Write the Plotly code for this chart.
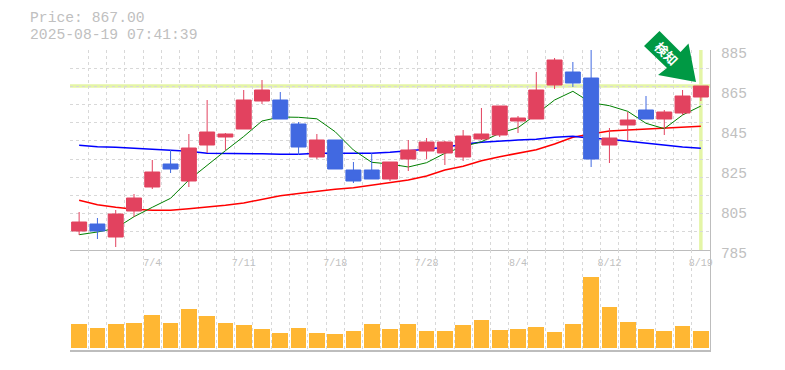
import plotly.graph_objects as go

W, H = 785, 370
L, R, T, B = 70, 710, 50, 350
MID = 250

index = list(range(35))
opens = [794.5,798,791.5,804.5,816.5,828,819.5,837.5,841.5,845.5,859.5,860,848,831.5,840,825,825,820.5,830.5,834.5,833.5,831.5,840.5,842.5,849.5,850.5,867.5,874,871,837.5,847.5,855,850.5,853.5,861.5]
closes = [799,794.5,803,811,824,825.5,836,844,843,860,865,850.5,836.5,840,825.5,819.5,820.5,829,835,839,839,842,843,857,851,865,880,868.5,830.5,841,850,850.5,854,862,867]
highs = [804,801,805,813,830,835,843,860,843.5,865,870,864,849,843,840,829,833.5,829,840,841,839.5,845,856,857,852,874,881,879,885,846,854,862,855,865,867]
lows = [792.5,790.5,786.5,801.5,815.5,823.5,816.5,833.5,835,845.5,858,850.5,832.5,830.5,825.5,818.5,820.5,819.5,824.5,830.5,827.5,829.5,840,841.5,843.5,850.5,865.5,866.5,826.5,828.5,839.5,850.5,842.5,852.5,859.5]
ma_green = [792.65,794,795.85,801.65,806.35,810.85,820,827.5,834.65,841.75,849.5,851.5,851.35,850.6,844.15,835,828.85,828,826.5,828.65,833.35,836.65,839.15,843.35,846.15,852.85,860,864.35,858.65,857.15,854.35,848.35,845.65,852.5,857]
ma_red = [809.85,807.65,806.35,805.35,804.85,804.85,805.65,806.35,807.35,808.5,810.35,812.15,813.25,814.35,815.35,816.15,817.5,818.85,820,822,825,826.85,829.65,831.65,833.5,835.15,838,841.35,843,844.5,845,845.5,845.85,846.15,846.85]
ma_blue = [837.35,836.65,836.35,835.85,835.65,835,834.35,833.35,833.35,833.35,833.15,832.85,832.85,833.35,833.35,833.35,833.35,833.85,834.5,835.35,836.35,837.85,838.85,839.5,840,840.35,841.35,841.85,840.85,840.35,839.35,838.35,837.5,836.5,835.85]
volumes = [24,20,24,25,33,25,39,32,25,23,19,15,20,15,14,17,24,19,24,17,17,23,28,18,19,21,16,24,71,41,26,19,17,22,17]

date_ticks = [4, 9, 14, 19, 24, 29, 34]
date_labels = ["7/4", "7/11", "7/18", "7/28", "8/4", "8/12", "8/19"]
price_ticks = [785, 805, 825, 845, 865, 885]
last_price = 867.00
price_text = "Price: 867.00"
time_text = "2025-08-19 07:41:39"
badge_text = "検知"

RED, BLUE = "#E2425F", "#4169E1"
TXT = "#c0c0c0"
GRID = "#d8d8d8"
EDGE = "#bdbdbd"
PALE = "#E4F5A6"
MONO = "Liberation Mono"

px = lambda x: (x - L) / (R - L)
py = lambda y: (B - y) / (B - T)

arrow_px = [(659.5,31),(644,46),(667,68),(658,75),(696,82),(688.5,43.5),(680.5,52)]
arrow_path = "M " + " L ".join(f"{px(a)} {py(b)}" for a, b in arrow_px) + " Z"

fig = go.Figure()
for vals, col, wid, name in [(ma_red, "#ff0000", 1.5, "MA long"), (ma_blue, "#0000ff", 1.5, "MA mid"), (ma_green, "#008000", 1, "MA short")]:
    fig.add_trace(go.Scatter(x=index, y=vals, mode="lines", name=name, line=dict(color=col, width=wid), xaxis="x", yaxis="y"))
fig.add_trace(go.Candlestick(
    x=index, open=opens, high=highs, low=lows, close=closes, xaxis="x", yaxis="y3", whiskerwidth=0,
    increasing=dict(line=dict(color=RED, width=1), fillcolor=RED),
    decreasing=dict(line=dict(color=BLUE, width=1), fillcolor=BLUE)))
fig.add_trace(go.Bar(x=index, y=volumes, marker=dict(color="#FFB733", line=dict(width=0)), width=0.86, xaxis="x2", yaxis="y2"))

xgrid = dict(showgrid=True, griddash="3px,3px", gridcolor=GRID, gridwidth=1, tick0=-0.5, dtick=1, tickmode="linear")
ygrid = dict(showgrid=True, griddash="3px,3px", gridcolor=GRID, gridwidth=1, tick0=785, dtick=100 / 11, tickmode="linear")

fig.update_layout(
    width=W, height=H, autosize=False, showlegend=False, paper_bgcolor="white", plot_bgcolor="white",
    margin=dict(l=L, r=W - R, t=T, b=H - B, pad=0, autoexpand=False), boxgap=0.18, boxgroupgap=0, bargap=0,
    font=dict(family=MONO, color=TXT),
    xaxis=dict(range=[-0.5, 34.5], domain=[0, 1], anchor="y", tickmode="array", tickvals=date_ticks, ticktext=date_labels, automargin=False,
               tickfont=dict(size=10, family=MONO, color=TXT), ticks="", ticklabelstandoff=3, showgrid=False, zeroline=False,
               showline=True, linecolor=EDGE, linewidth=1, minor=xgrid, rangeslider=dict(visible=False)),
    yaxis=dict(range=[785, 885], domain=[100 / 300, 1], anchor="x", side="right", tickmode="array", tickvals=price_ticks, automargin=False,
               tickfont=dict(size=14.5, family=MONO, color=TXT), ticks="", ticklabelstandoff=7, ticklabelshift=3,
               showgrid=False, zeroline=False, showline=True, linecolor=EDGE, linewidth=1, minor=ygrid),
    yaxis3=dict(range=[785, 885], overlaying="y", anchor="x", side="right", visible=False, automargin=False),
    xaxis2=dict(range=[-0.5, 34.5], domain=[0, 1], anchor="y2", showticklabels=False, ticks="", showgrid=False, zeroline=False, automargin=False,
                showline=True, linecolor=EDGE, linewidth=1.5, minor=xgrid),
    yaxis2=dict(range=[-2, 98], domain=[0, 100 / 300], anchor="x2", side="right", showticklabels=False, ticks="", showgrid=False, automargin=False,
                zeroline=False, showline=True, linecolor=EDGE, linewidth=1),
    shapes=[
        dict(type="line", xref="paper", yref="y", x0=0, x1=1, y0=last_price, y1=last_price, line=dict(color=PALE, width=3.5), layer="below"),
        dict(type="line", xref="x", yref="y domain", x0=index[-1], x1=index[-1], y0=0, y1=1, line=dict(color=PALE, width=3.5), layer="below"),
        dict(type="path", xref="paper", yref="paper", path=arrow_path, fillcolor="#009944", line=dict(width=0), layer="above"),
    ],
    annotations=[
        dict(text=price_text, xref="paper", yref="paper", x=px(28), y=py(18.2), xanchor="left", yanchor="middle",
             showarrow=False, font=dict(size=14.7, family=MONO, color=TXT)),
        dict(text=time_text, xref="paper", yref="paper", x=px(28), y=py(34.8), xanchor="left", yanchor="middle",
             showarrow=False, font=dict(size=14.7, family=MONO, color=TXT)),
        dict(text=f"<b>{badge_text}</b>", xref="paper", yref="paper", x=px(667), y=py(53), xanchor="center", yanchor="middle",
             textangle=45, showarrow=False, font=dict(size=13, family="Noto Sans CJK JP", color="white")),
    ],
)
fig.write_html("out.html", config={"displayModeBar": False}, post_script="document.body.style.margin='0';")
